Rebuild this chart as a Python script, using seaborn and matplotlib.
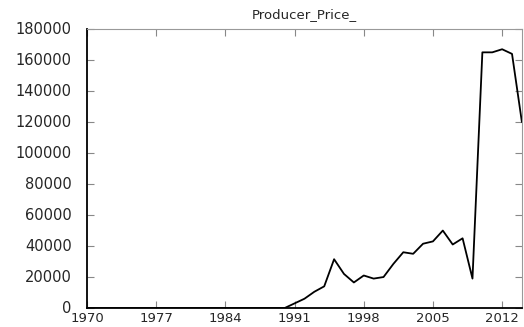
import numpy as np
import pandas as pd
import matplotlib
matplotlib.use("Agg")
import matplotlib.pyplot as plt
import seaborn as sns

years = list(range(1970, 2015))
early = [0] * 21  # 1970-1990
later = [3000, 6000, 10500, 14000, 31500, 22000, 16500, 21000, 19000, 20000,
         28500, 36000, 35000, 41500, 43000, 50000, 41000, 45000, 19000,
         165000, 165000, 167000, 164000, 120000]
price = early + later

yticks = [0, 20000, 40000, 60000, 80000, 100000, 120000, 140000, 160000, 180000]
xticks = [1970, 1977, 1984, 1991, 1998, 2005, 2012]

df = pd.DataFrame({"year": years, "price": price})

sns.set_style("white")
plt.rcParams['font.family'] = ['DejaVu Sans']

fig = plt.figure(figsize=(5.24, 3.27), dpi=100)
ax = fig.add_axes([0.166, 0.058, 0.830, 0.853])

sns.lineplot(data=df, x="year", y="price", color="black", linewidth=1.3, ax=ax)

ax.set_xlim(1970, 2014)
ax.set_ylim(0, 180000)
ax.set_xticks(xticks)
ax.set_yticks(yticks)
ax.set_xticklabels([str(x) for x in xticks], fontsize=9.5)
ax.set_yticklabels([str(y) for y in yticks], fontsize=10.5)
ax.tick_params(direction="in", length=5, width=0.8, color="#888888",
               top=True, right=True, bottom=True, left=True)
ax.tick_params(axis="x", pad=3)
ax.tick_params(axis="y", pad=11)
for lab in ax.get_yticklabels():
    lab.set_verticalalignment("center")

ax.spines["left"].set_color("black")
ax.spines["left"].set_linewidth(1.3)
ax.spines["bottom"].set_color("black")
ax.spines["bottom"].set_linewidth(1.3)
ax.spines["top"].set_color("#999999")
ax.spines["top"].set_linewidth(0.8)
ax.spines["right"].set_color("#999999")
ax.spines["right"].set_linewidth(0.8)

ax.set_xlabel("")
ax.set_ylabel("")
ax.set_title("Producer_Price_", fontsize=9.5, pad=8)

fig.savefig("out.png", dpi=100)
